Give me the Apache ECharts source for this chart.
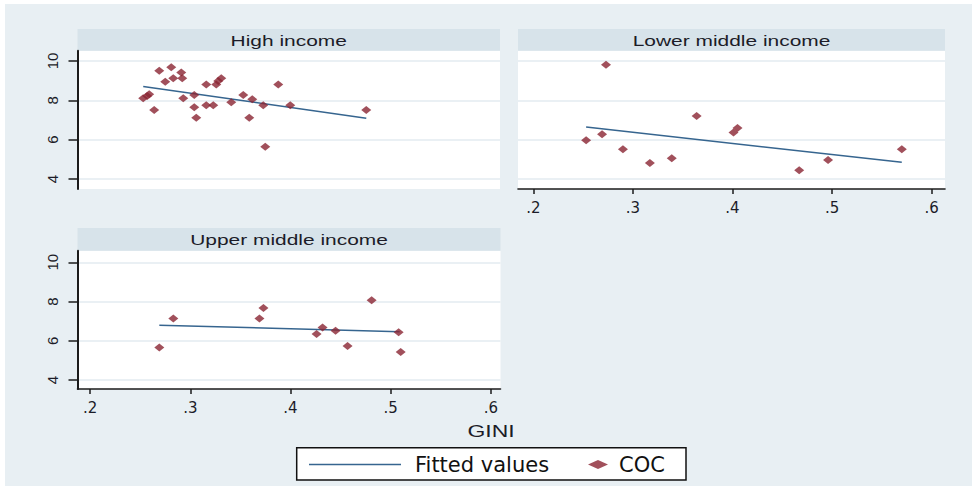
<!DOCTYPE html>
<html>
<head>
<meta charset="utf-8">
<script src="https://cdn.jsdelivr.net/npm/echarts@6/dist/echarts.min.js"></script>
<style>
  html, body { margin: 0; padding: 0; background: #ffffff; }
  #chart { width: 979px; height: 488px; }
</style>
</head>
<body>
<div id="chart"></div>
<script>
// ---- Data ----
const panelTitles = ['High income', 'Lower middle income', 'Upper middle income'];

const highGini = [0.253, 0.257, 0.259, 0.264, 0.269, 0.281, 0.275, 0.283, 0.291, 0.292, 0.293, 0.304, 0.304, 0.306, 0.316, 0.316, 0.323, 0.326, 0.328, 0.331, 0.341, 0.353, 0.362, 0.359, 0.373, 0.375, 0.388, 0.400, 0.476];
const highCoc  = [8.10, 8.22, 8.31, 7.51, 9.51, 9.68, 8.95, 9.12, 9.42, 9.12, 8.10, 8.27, 7.65, 7.12, 8.81, 7.75, 7.75, 8.81, 8.98, 9.12, 7.90, 8.27, 8.05, 7.12, 7.75, 5.64, 8.81, 7.75, 7.51];

const lowerGini = [0.253, 0.269, 0.273, 0.290, 0.317, 0.339, 0.364, 0.401, 0.405, 0.467, 0.496, 0.570];
const lowerCoc  = [5.97, 6.27, 9.81, 5.51, 4.81, 5.05, 7.20, 6.36, 6.59, 4.44, 4.97, 5.51];

const upperGini = [0.269, 0.283, 0.369, 0.373, 0.426, 0.432, 0.445, 0.457, 0.481, 0.508, 0.510];
const upperCoc  = [5.65, 7.13, 7.13, 7.67, 6.35, 6.67, 6.51, 5.73, 8.06, 6.43, 5.43];

// Fitted values (endpoints)
const fitHighX  = [0.253, 0.476];
const fitHighY  = [8.70, 7.09];
const fitLowerX = [0.253, 0.570];
const fitLowerY = [6.64, 4.85];
const fitUpperX = [0.269, 0.509];
const fitUpperY = [6.79, 6.46];

// Tick values / labels
const xTicks = [0.2, 0.3, 0.4, 0.5, 0.6];
const xTickLabels = ['.2', '.3', '.4', '.5', '.6'];
const yTicks = [4, 6, 8, 10];
const yTickLabels = ['4', '6', '8', '10'];

const xTitle = 'GINI';
const legendLine = 'Fitted values';
const legendDots = 'COC';

// ---- Styling ----
const BG = '#e8eff3';
const HEADER = '#d7e3ea';
const AXIS = '#1b1b1b';
const GRIDLINE = '#e3ebf0';
const DOT = '#8a2432';
const LINE = '#36658f';
const TEXT = '#1c1c28';

const pairs = (xs, ys) => xs.map((x, i) => [x, ys[i]]);
const lookup = (vals, labels, v) => {
  const i = vals.findIndex(t => Math.abs(t - v) < 1e-9);
  return i >= 0 ? labels[i] : '';
};

function xAxisCfg(gridIndex, min, max, show) {
  return {
    type: 'value', gridIndex, min, max,
    splitLine: { show: false },
    axisLine: { show: show, onZero: false, lineStyle: { color: AXIS, width: 1.6 } },
    axisTick: { show: show, customValues: xTicks, length: 5, lineStyle: { color: AXIS, width: 1.5 } },
    axisLabel: {
      show: show, customValues: xTicks, margin: 11,
      fontFamily: 'DejaVu Sans', fontSize: 15, color: TEXT,
      formatter: v => lookup(xTicks, xTickLabels, v)
    }
  };
}
function yAxisCfg(gridIndex, min, max, show) {
  return {
    type: 'value', gridIndex, min, max,
    splitLine: { show: true, lineStyle: { color: GRIDLINE, width: 1.5 } },
    axisLine: { show: show, onZero: false, lineStyle: { color: AXIS, width: 2 } },
    axisTick: { show: show, customValues: yTicks, length: 9, lineStyle: { color: AXIS, width: 1.5 } },
    axisLabel: {
      show: show, customValues: yTicks, rotate: 90, margin: 18,
      fontFamily: 'Liberation Sans', fontSize: 15, color: TEXT,
      formatter: v => lookup(yTicks, yTickLabels, v)
    }
  };
}

const grids = [
  { left: 77.5, top: 50.7, width: 422.5, height: 138.3 },
  { left: 518,  top: 50.7, width: 427,   height: 138.3 },
  { left: 77.5, top: 250.7, width: 423,  height: 138.3 }
].map(g => Object.assign({ show: true, backgroundColor: '#ffffff', borderWidth: 0, containLabel: false }, g));

function header(x, y, w, h, text) {
  return [
    { type: 'rect', shape: { x, y, width: w, height: h }, style: { fill: HEADER }, silent: true },
    { type: 'text', x: x + w / 2, y: y + h / 2 + 0.5, scaleX: 1.35,
      style: { text, align: 'center', verticalAlign: 'middle', font: '15.5px "Liberation Sans"', fill: TEXT },
      silent: true }
  ];
}

const option = {
  animation: false,
  backgroundColor: '#ffffff',
  grid: grids,
  xAxis: [
    xAxisCfg(0, 0.1873, 0.6097, false),
    xAxisCfg(1, 0.1846, 0.6134, true),
    xAxisCfg(2, 0.1873, 0.6097, true)
  ],
  yAxis: [
    yAxisCfg(0, 3.49, 10.524, true),
    yAxisCfg(1, 3.49, 10.524, false),
    yAxisCfg(2, 3.54, 10.59, true)
  ],
  legend: [
    {
      data: [{ name: legendLine, icon: 'rect' }], left: 309, top: 454, padding: 0,
      itemWidth: 92, itemHeight: 1.6,
      textStyle: { fontFamily: 'DejaVu Sans', fontSize: 21, color: '#111', padding: [0, 0, 0, 9] },
      selectedMode: false
    },
    {
      data: [{ name: legendDots, icon: 'diamond' }], left: 588, top: 454, padding: 0,
      itemWidth: 20, itemHeight: 9,
      textStyle: { fontFamily: 'DejaVu Sans', fontSize: 21, color: '#111', padding: [0, 0, 0, 6] },
      selectedMode: false
    }
  ],
  graphic: [
    { type: 'rect', z: -10, shape: { x: 5, y: 4, width: 967, height: 482 }, style: { fill: BG }, silent: true },
    ...header(77.5, 29, 422.5, 21.7, panelTitles[0]),
    ...header(518, 29, 427, 21.7, panelTitles[1]),
    ...header(77.5, 228, 423, 22.7, panelTitles[2]),
    { type: 'text', x: 491, y: 431, scaleX: 1.35,
      style: { text: xTitle, align: 'center', verticalAlign: 'middle', font: '17px "Liberation Sans"', fill: TEXT },
      silent: true },
    { type: 'rect', z: -1, shape: { x: 296.7, y: 447.7, width: 389.3, height: 32.3 },
      style: { fill: '#ffffff', stroke: '#111111', lineWidth: 1.5 }, silent: true }
  ],
  series: [
    { name: legendLine, type: 'line', xAxisIndex: 0, yAxisIndex: 0, symbol: 'none',
      lineStyle: { color: LINE, width: 1.5 }, itemStyle: { color: LINE }, data: pairs(fitHighX, fitHighY), z: 3 },
    { name: legendLine, type: 'line', xAxisIndex: 1, yAxisIndex: 1, symbol: 'none',
      lineStyle: { color: LINE, width: 1.5 }, itemStyle: { color: LINE }, data: pairs(fitLowerX, fitLowerY), z: 3 },
    { name: legendLine, type: 'line', xAxisIndex: 2, yAxisIndex: 2, symbol: 'none',
      lineStyle: { color: LINE, width: 1.5 }, itemStyle: { color: LINE }, data: pairs(fitUpperX, fitUpperY), z: 3 },
    { name: legendDots, type: 'scatter', xAxisIndex: 0, yAxisIndex: 0, symbol: 'diamond', symbolSize: [10, 8],
      itemStyle: { color: DOT }, data: pairs(highGini, highCoc), z: 4 },
    { name: legendDots, type: 'scatter', xAxisIndex: 1, yAxisIndex: 1, symbol: 'diamond', symbolSize: [10, 8],
      itemStyle: { color: DOT }, data: pairs(lowerGini, lowerCoc), z: 4 },
    { name: legendDots, type: 'scatter', xAxisIndex: 2, yAxisIndex: 2, symbol: 'diamond', symbolSize: [10, 8],
      itemStyle: { color: DOT }, data: pairs(upperGini, upperCoc), z: 4 }
  ]
};

const chart = echarts.init(document.getElementById('chart'), null, { renderer: 'svg', width: 979, height: 488 });
chart.setOption(option);
</script>
</body>
</html>
